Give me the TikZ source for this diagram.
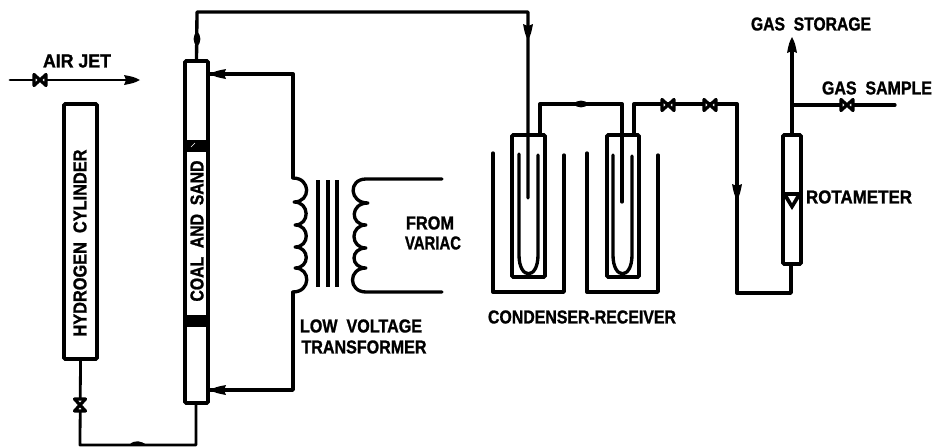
\documentclass[tikz,border=0pt]{standalone}
\usepackage{fontspec}
\setmainfont{Liberation Sans}[BoldFeatures={FakeBold=1.3}]
\usetikzlibrary{fit}
\newcommand{\lbl}[3]{\resizebox{\dimexpr#1pt*3/4\relax}{\dimexpr#2pt*3/4\relax}{\bfseries #3}}
\tikzset{
  x=0.75pt,y=-0.75pt,
  pipe/.style={line width=2.5pt,line cap=round,line join=round},
  thinpipe/.style={line width=2.1pt,line cap=round,line join=round},
  box/.style={draw,line width=2.7pt,inner sep=0pt,outer sep=0pt,rectangle,rounded corners=0.8pt,fit=#1},
  txt/.style={inner sep=0pt,outer sep=0pt},
  valveh/.pic={\draw[line width=2.4pt,fill=white,line join=round] (-6,-5.5)--(6,5.5)--(6,-5.5)--(-6,5.5)--cycle;},
  flowmark/.pic={\fill (-8,0) .. controls (-3,-4.5) and (3,-4.5) .. (8,0) .. controls (3,4.5) and (-3,4.5) .. (-8,0) -- cycle;},
  hump/.pic={\fill (-9,1) .. controls (-3,-5) and (3,-3) .. (9,1) -- cycle;},
  tipmark/.pic={\fill (9,0) .. controls (3,-3) .. (-7,-5) -- (-5,0) -- (-7,5) .. controls (3,3) .. (9,0) -- cycle;}
}
\begin{document}
\begin{tikzpicture}
\useasboundingbox (0,0) rectangle (935,447);
% named corners
\coordinate (cylA) at (64,104); \coordinate (cylB) at (97,359);
\coordinate (reaA) at (185,61); \coordinate (reaB) at (208,403);
\coordinate (tubA) at (512,135); \coordinate (tubB) at (545,277);
\coordinate (tubC) at (607,135); \coordinate (tubD) at (639,277);
\coordinate (rotA) at (783,135); \coordinate (rotB) at (801,264);
\node[box={(cylA)(cylB)}] (cyl) {};
\node[box={(reaA)(reaB)}] (rea) {};
\node[box={(tubA)(tubB)}] (tube1) {};
\node[box={(tubC)(tubD)}] (tube2) {};
\node[box={(rotA)(rotB)}] (rot) {};
% packing bands
\fill (185,140) rectangle (208,152);
\fill (185,315) rectangle (208,327);
\draw[white,line width=.4pt] (191,147)--(195,143);
% air jet
\coordinate (airS) at (10,80); \coordinate (airE) at (128,80);
\draw[thinpipe] (airS) -- (airE);
\pic at (40,80) {valveh};
\pic at (131,80) {tipmark};
% hydrogen feed
\coordinate (h1) at (80,445); \coordinate (h2) at (196,445);
\draw[thinpipe] (cyl.south) -- (h1) -- (h2) -- (h2 |- rea.south);
\pic[rotate=90] at (80,405) {valveh};
\pic at (138,444) {hump};
% reactor to condenser
\coordinate (t1) at (197,12); \coordinate (t2) at (528,12); \coordinate (t3) at (528,198);
\draw[pipe] (rea.north) -- (t1) -- (t2) -- (t3);
\pic[rotate=-90] at (197,39) {flowmark};
\pic[rotate=-90] at (528,31) {tipmark};
% transformer primary
\coordinate (w1) at (293,74); \coordinate (w2) at (293,178);
\coordinate (w3) at (293,292); \coordinate (w4) at (293,390);
\draw[pipe] (208,74) -- (w1) -- (w2);
\draw[pipe] (w3) -- (w4) -- (208,390);
\pic[rotate=180] at (219,74) {tipmark};
\pic[rotate=180] at (219,390) {tipmark};
\draw[pipe] (w2) .. controls (311,178) and (311,202) .. (294,202)
  .. controls (310,202) and (310,225) .. (295,225)
  .. controls (310,225) and (310,247) .. (295,247)
  .. controls (310,247) and (310,268) .. (295,268)
  .. controls (311,268) and (311,292) .. (w3);
% core
\foreach \cx in {318,328,337} \draw[pipe,line cap=butt] (\cx,180) -- (\cx,287);
% secondary
\coordinate (s1) at (442,179); \coordinate (s2) at (442,292);
\draw[pipe] (s1) -- (366,179) .. controls (348,179) and (349,203) .. (368,203)
  .. controls (350,203) and (350,225) .. (366,225)
  .. controls (350,225) and (350,248) .. (366,248)
  .. controls (350,248) and (350,268) .. (366,268)
  .. controls (348,268) and (348,292) .. (366,292) -- (s2);
% baths
\draw[pipe] (493,153) -- (493,292) -- (564,292) -- (564,155);
\draw[pipe] (587,153) -- (587,292) -- (658,292) -- (658,155);
% inner U tubes
\draw[pipe] (519,154) -- (519,255) .. controls (519,280) and (538,280) .. (538,255) -- (538,155);
\draw[pipe] (613,155) -- (613,255) .. controls (613,280) and (632,280) .. (632,255) -- (632,156);
% connections between condensers
\coordinate (c1) at (540,104); \coordinate (c2) at (622,104); \coordinate (c3) at (622,202);
\draw[pipe] (540,135) -- (c1) -- (c2) -- (c3);
\pic at (581,104) {flowmark};
\coordinate (d1) at (634,104); \coordinate (d2) at (737,104); \coordinate (d3) at (737,293); \coordinate (d4) at (791,293);
\draw[pipe] (634,135) -- (d1) -- (d2) -- (d3) -- (d4) -- (rot.south -| d4);
\pic at (668,105) {valveh};
\pic at (710,105) {valveh};
\pic[rotate=-90] at (737,191) {tipmark};
% rotameter outlet
\coordinate (g1) at (792,47); \coordinate (g2) at (792,105); \coordinate (g3) at (895,105);
\draw[pipe] (rot.north) -- (g1);
\draw[pipe] (g2) -- (g3);
\pic at (847,105) {valveh};
\pic[rotate=90] at (792,46) {tipmark};
% float
\fill (784,192) -- (800,192) -- (800,197) -- (792,210) -- (784,197) -- cycle;
\fill[white] (788,196) -- (796,196) -- (792,203) -- cycle;
% labels
\node[txt] (l1) at (77,61) {\lbl{68}{13}{AIR JET}};
\node[txt,rotate=90] (l2) at (80,243) {\lbl{187}{13}{HYDROGEN\ \ CYLINDER}};
\node[txt,rotate=90] (l3) at (197,231) {\lbl{141}{13}{COAL\ \ AND\ \ SAND}};
\node[txt] (l4) at (811,24) {\lbl{120}{13}{GAS\ \ STORAGE}};
\node[txt] (l5) at (877,88) {\lbl{110}{13}{GAS\ \ SAMPLE}};
\node[txt] (l6) at (859,197) {\lbl{106}{13}{ROTAMETER}};
\node[txt] (l7) at (582,317) {\lbl{188}{13}{CONDENSER-RECEIVER}};
\node[txt] (l8) at (430,223) {\lbl{48}{13}{FROM}};
\node[txt] (l9) at (433,243) {\lbl{56}{13}{VARIAC}};
\node[txt] (l10) at (361,326) {\lbl{122}{13}{LOW\ \ VOLTAGE}};
\node[txt] (l11) at (364,347) {\lbl{125}{13}{TRANSFORMER}};
\end{tikzpicture}
\end{document}
